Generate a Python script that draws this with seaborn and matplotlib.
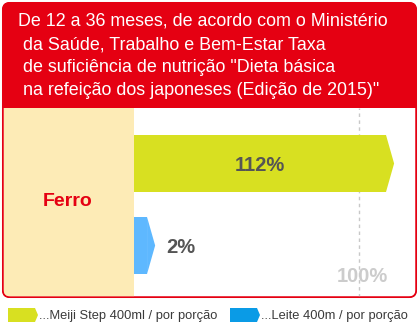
import matplotlib
matplotlib.use("Agg")
import matplotlib.pyplot as plt
from matplotlib.patches import FancyBboxPatch, Rectangle, Polygon
import seaborn as sns
import pandas as pd

# ---- data ----
nutrient = "Ferro"
products = ["Meiji Step 400ml", "Leite 400m"]
values = [112, 2]
value_labels = ["112%", "2%"]
legend_labels = ["...Meiji Step 400ml / por porção", "...Leite 400m / por porção"]
reference_value = 100
reference_label = "100%"
title_lines = [
    "De 12 a 36 meses, de acordo com o Ministério",
    " da Saúde, Trabalho e Bem-Estar Taxa",
    " de suficiência de nutrição \"Dieta básica",
    " na refeição dos japoneses (Edição de 2015)\"",
]

# ---- style ----
RED = "#E50012"
GREEN = "#D8E021"
BLUE_BAR = "#5EB8FF"
BLUE_LEG = "#0A9BE6"
BEIGE = "#FDEBB6"
FONT = ["Liberation Sans", "DejaVu Sans"]

sns.set_theme(style="white")
plt.rcParams["font.family"] = FONT

W, H = 419, 323
fig = plt.figure(figsize=(W / 100, H / 100), dpi=100)
fig.patch.set_facecolor("white")

# background axes in pixel coordinates
bg = fig.add_axes([0, 0, 1, 1])
bg.set_xlim(0, W)
bg.set_ylim(H, 0)
bg.axis("off")

outer = FancyBboxPatch((2, 2), 415, 296, boxstyle="round,pad=0,rounding_size=8",
                       fc=RED, ec="none")
bg.add_patch(outer)
inner = FancyBboxPatch((3.5, 50), 412, 246.5, boxstyle="round,pad=0,rounding_size=6.5",
                       fc="white", ec="none")
bg.add_patch(inner)
bg.add_patch(Rectangle((2, 40), 415, 68, fc=RED, ec="none"))
beige = Rectangle((3.5, 108), 130.5, 190, fc=BEIGE, ec="none")
bg.add_patch(beige)
beige.set_clip_path(inner)

for i, line in enumerate(title_lines):
    bg.text(18, 26 + i * 23, line, color="white", fontsize=12.9,
            ha="left", va="baseline")

bg.text(68, 202, nutrient, color=RED, fontsize=14, fontweight="bold",
        ha="center", va="center")

# legend (bottom)
leg_x = [8, 230]
for lx, col, lab in zip(leg_x, [GREEN, BLUE_LEG], legend_labels):
    bg.add_patch(Polygon([(lx, 308), (lx + 27, 308), (lx + 30, 315),
                          (lx + 27, 322), (lx, 322)], closed=True, fc=col, ec="none"))
    bg.text(lx + 30.5, 315.5, lab, color="#3A3A3A", fontsize=9.3,
            ha="left", va="center")

# ---- data axes ----
ax = fig.add_axes([134 / W, (H - 297) / H, (417 - 134) / W, (297 - 108) / H])
ax.patch.set_alpha(0)
df = pd.DataFrame({"product": products, "value": values})
sns.barplot(data=df, x="value", y="product", hue="product",
            palette=[GREEN, BLUE_BAR], orient="h", width=0.695,
            saturation=1, legend=False, ax=ax)

MIN_BODY = 5.8
TIP = 3.6
for patch, val, lab in zip(ax.patches, values, value_labels):
    x0, y0 = patch.get_x(), patch.get_y()
    h = patch.get_height()
    body = max(val, MIN_BODY)
    patch.set_width(body)
    patch.set_linewidth(0)
    ax.add_patch(Polygon([(x0 + body, y0), (x0 + body + TIP, y0 + h / 2),
                          (x0 + body, y0 + h)], closed=True,
                         fc=patch.get_facecolor(), ec="none"))
    yc = y0 + h / 2 + 0.03
    if val > 20:
        ax.text(val / 2, yc, lab, color="#555555", fontsize=14.5,
                fontweight="bold", ha="center", va="center")
    else:
        ax.text(body + TIP + 4.9, yc, lab, color="#555555", fontsize=14.5,
                fontweight="bold", ha="left", va="center")

ax.axvline(reference_value, color="#C8C8C8", ls=(0, (2.5, 2.5)), lw=1, zorder=0)
ax.text(reference_value + 1.3, 1.372, reference_label, color="#CCCCCC",
        fontsize=14.5, fontweight="bold", ha="center", va="center")

ax.set_xlim(0, (417 - 134) / 2.25)
ax.set_ylim((297 - 163.5) / 82, -(163.5 - 108) / 82)
ax.set_xlabel("")
ax.set_ylabel("")
ax.set_xticks([])
ax.set_yticks([])
for s in ax.spines.values():
    s.set_visible(False)

# red outline of the white panel drawn on top
bg_top = fig.add_axes([0, 0, 1, 1], zorder=5)
bg_top.set_xlim(0, W)
bg_top.set_ylim(H, 0)
bg_top.axis("off")
bg_top.patch.set_alpha(0)
bg_top.add_patch(FancyBboxPatch((2.75, 2.75), 413.5, 294.5,
                                boxstyle="round,pad=0,rounding_size=7.5",
                                fc="none", ec=RED, lw=1.1))

fig.savefig("out.png", dpi=100)
